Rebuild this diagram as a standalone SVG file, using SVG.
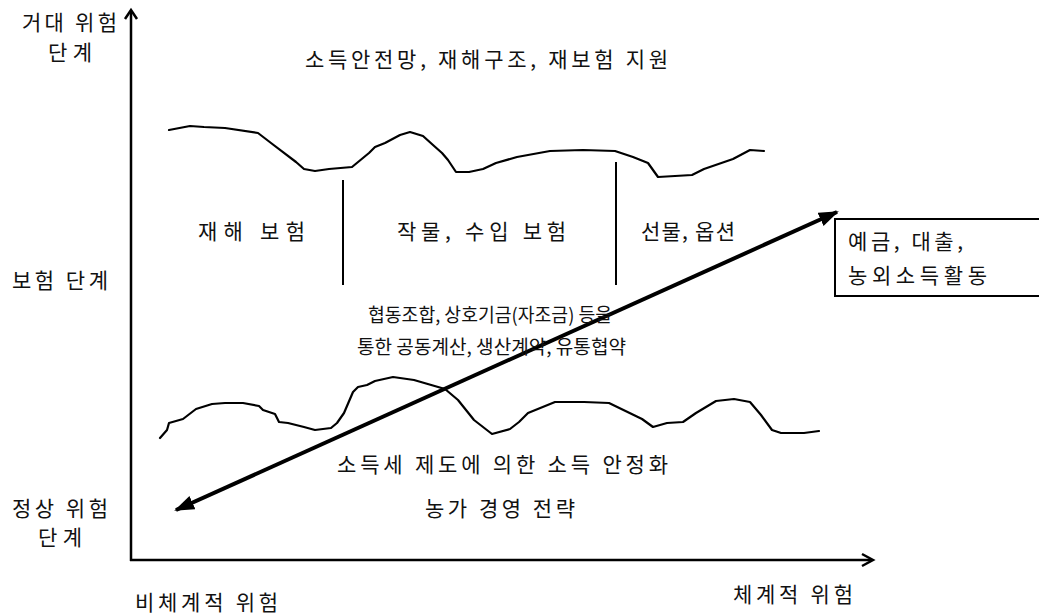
<svg xmlns="http://www.w3.org/2000/svg" width="1039" height="614" viewBox="0 0 1039 614">
<style>
.t{font-family:"Noto Sans CJK KR","Noto Sans",sans-serif;font-size:21px;fill:#111;}
.s{font-family:"Noto Sans CJK KR","Noto Sans",sans-serif;font-size:19px;fill:#111;}
.w{fill:none;stroke:#000;stroke-width:2.2;stroke-linejoin:round;stroke-linecap:round;}
.ax{fill:none;stroke:#000;stroke-width:2.5;}
.d{stroke:#000;stroke-width:4;}
</style>
<defs>
<marker id="ah" viewBox="0 0 10 10" refX="9" refY="5" markerWidth="5" markerHeight="3.6" orient="auto-start-reverse" markerUnits="strokeWidth" preserveAspectRatio="none">
<path d="M0,0 L10,5 L0,10 Z" fill="#000"/>
</marker>
</defs>
<rect width="1039" height="614" fill="#fff"/>
<g id="axes">
<line class="ax" x1="131" y1="561" x2="131" y2="11"/>
<polyline class="ax" points="125,19 131,10 137,19"/>
<line class="ax" x1="130" y1="560" x2="872" y2="560"/>
<polyline class="ax" points="862,554 873,560 862,566"/>
</g>
<g id="upper-wave">
<polyline class="w" points="169,130 190,126 204,127 225,128 258,133 271,143 296,162 304,169 315,171 329,169 352,167 369,153 375,147 385,143 400,135 410,132 423,136 433,145 442,153 448,160 456,172 469,172 483,169 496,163 517,157 550,151 583,150 615,151 633,157 648,163 658,177 692,175 704,169 733,159 750,150 764,151"/>
</g>
<g id="lower-wave">
<polyline class="w" points="160,438 167,430 169,423 183,419 196,409 212,404 225,403 243,403 259,406 263,410 275,414 279,422 288,423 304,427 315,430 331,428 337,423 344,413 353,392 358,387 367,385 375,381 393,377 414,380 445,389 458,400 474,420 492,434 510,429 519,422 528,413 555,402 584,402 609,403 642,419 653,427 667,423 683,422 696,413 716,401 734,399 750,402 761,415 772,430 781,433 804,433 819,431"/>
</g>
<g id="dividers">
<line x1="343" y1="180" x2="343" y2="285" stroke="#000" stroke-width="2"/>
<line x1="616" y1="162" x2="616" y2="285" stroke="#000" stroke-width="2"/>
</g>
<g id="node-box">
<rect x="835" y="219" width="215" height="77" fill="#fff" stroke="#000" stroke-width="2"/>
<text class="t" x="848" y="249" textLength="115" lengthAdjust="spacing">예금, 대출,</text>
<text class="t" x="848" y="283" textLength="139" lengthAdjust="spacing">농외소득활동</text>
</g>
<g id="connectors">
<line class="d" x1="176" y1="510" x2="837" y2="212" marker-start="url(#ah)" marker-end="url(#ah)"/>
</g>
<g id="labels">
<text class="t" x="22" y="30" textLength="95" lengthAdjust="spacing">거대 위험</text>
<text class="t" x="48" y="60" textLength="44" lengthAdjust="spacing">단계</text>
<text class="t" x="305" y="67" textLength="363" lengthAdjust="spacing">소득안전망, 재해구조, 재보험 지원</text>
<text class="t" x="198" y="239" textLength="107" lengthAdjust="spacing">재해 보험</text>
<text class="t" x="397" y="239" textLength="169" lengthAdjust="spacing">작물, 수입 보험</text>
<text class="t" x="641" y="239" textLength="94" lengthAdjust="spacing">선물, 옵션</text>
<text class="t" x="12" y="288" textLength="96" lengthAdjust="spacing">보험 단계</text>
<text class="s" x="368" y="322" textLength="244" lengthAdjust="spacingAndGlyphs">협동조합, 상호기금(자조금) 등을</text>
<text class="s" x="357" y="354" textLength="269" lengthAdjust="spacingAndGlyphs">통한 공동계산, 생산계약, 유통협약</text>
<text class="t" x="337" y="472" textLength="331" lengthAdjust="spacing">소득세 제도에 의한 소득 안정화</text>
<text class="t" x="425" y="516" textLength="150" lengthAdjust="spacing">농가 경영 전략</text>
<text class="t" x="12" y="516" textLength="96" lengthAdjust="spacing">정상 위험</text>
<text class="t" x="38" y="545" textLength="44" lengthAdjust="spacing">단계</text>
<text class="t" x="135" y="610" textLength="143" lengthAdjust="spacing">비체계적 위험</text>
<text class="t" x="733" y="602" textLength="120" lengthAdjust="spacing">체계적 위험</text>
</g>
</svg>
